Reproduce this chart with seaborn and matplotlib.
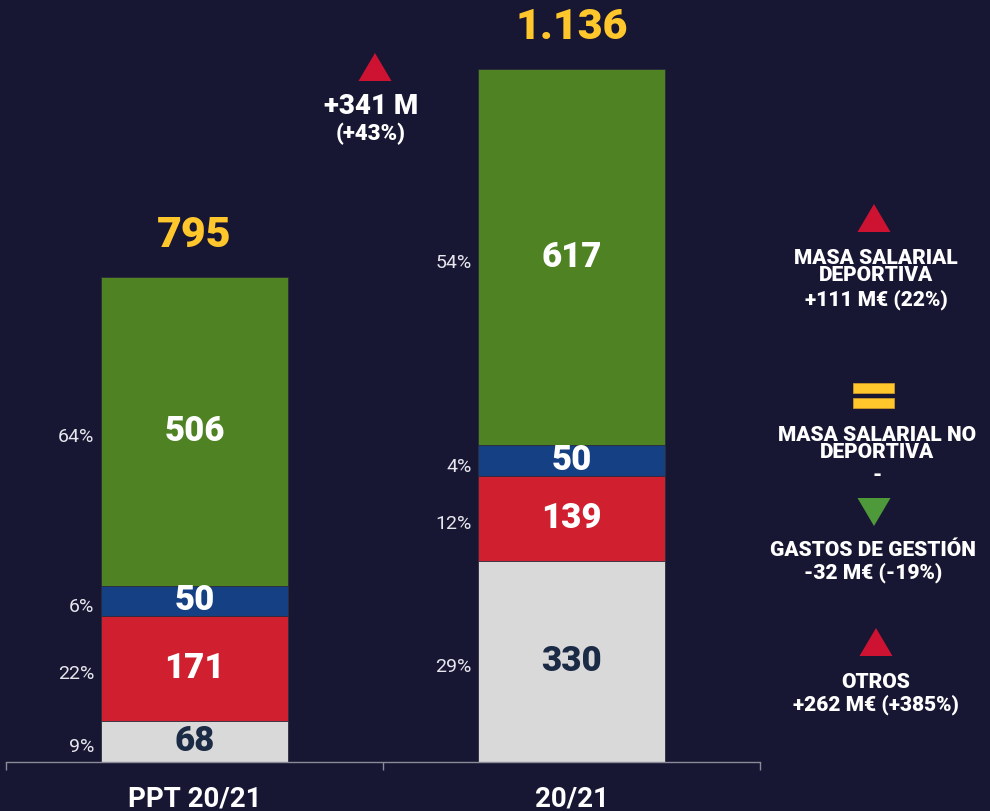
import pandas as pd
import seaborn as sns
import matplotlib.pyplot as plt
from matplotlib.patches import Polygon, Rectangle

periods = ["PPT 20/21", "20/21"]
otros = [68, 330]
gastos = [171, 139]
no_deportiva = [50, 50]
deportiva = [506, 617]
totals = ["795", "1.136"]
pct_otros = ["9%", "29%"]
pct_gastos = ["22%", "12%"]
pct_no_dep = ["6%", "4%"]
pct_dep = ["64%", "54%"]

BG = "#181733"
layers = [
    ("otros", otros, pct_otros, "#D9D9D9", "#1B2A45"),
    ("gastos", gastos, pct_gastos, "#D01F2E", "white"),
    ("no_dep", no_deportiva, pct_no_dep, "#164084", "white"),
    ("dep", deportiva, pct_dep, "#4F8223", "white"),
]

df = pd.DataFrame({"period": periods, "otros": otros, "gastos": gastos,
                   "no_dep": no_deportiva, "dep": deportiva})
cols = ["otros", "gastos", "no_dep", "dep"]
cum = df[cols].cumsum(axis=1)

sns.set_theme(style="white")
plt.rcParams["font.family"] = ["Roboto", "DejaVu Sans"]

fig = plt.figure(figsize=(9.9, 8.11), dpi=100, facecolor=BG)
ax = fig.add_axes([6 / 990, 49 / 811, 754 / 990, 762 / 811])
ax.set_facecolor(BG)

# stacked bars: draw cumulative heights from the top layer down
for name, vals, pcts, color, txt in reversed(layers):
    sns.barplot(x=df["period"], y=cum[name], color=color, saturation=1,
                width=0.495, edgecolor="#2a2a3a", linewidth=0.6, ax=ax)

for name, vals, pcts, color, txt in layers:
    for i in range(len(periods)):
        top = cum[name][i]
        mid = top - vals[i] / 2
        ax.text(i, mid, str(vals[i]), ha="center", va="center",
                fontsize=25, fontweight="heavy", color=txt)
        ax.text(i - 0.265, mid - 10, pcts[i], ha="right", va="center",
                fontsize=14, color="#E6E6EE")

for i in range(len(periods)):
    ax.text(i, cum["dep"][i] + 68, totals[i], ha="center", va="center",
            fontsize=31, fontweight="heavy", color="#FFC72C")

ax.set_xlim(-0.5, 1.5)
ax.set_ylim(0, 1249)
ax.set_xlabel("")
ax.set_ylabel("")
ax.set_yticks([])
for s in ["top", "left", "right"]:
    ax.spines[s].set_visible(False)
ax.spines["bottom"].set_color("#8A8A99")
ax.spines["bottom"].set_linewidth(1)
ax.set_xticks([0, 1])
ax.set_xticklabels(periods, fontsize=20, fontweight="bold", color="white")
ax.set_xticks([-0.5, 0.5, 1.5], minor=True)
ax.tick_params(axis="x", which="major", length=0, pad=17)
ax.tick_params(axis="x", which="minor", length=6, width=1, color="#8A8A99",
               direction="out", bottom=True)


def px(x, y):
    return (x / 990, 1 - y / 811)


def triangle(cx, cy, up, color, w=33, h=28):
    if up:
        pts = [px(cx - w / 2, cy + h / 2), px(cx + w / 2, cy + h / 2), px(cx, cy - h / 2)]
    else:
        pts = [px(cx - w / 2, cy - h / 2), px(cx + w / 2, cy - h / 2), px(cx, cy + h / 2)]
    fig.patches.append(Polygon(pts, closed=True, facecolor=color, edgecolor="none",
                               transform=fig.transFigure))


def ftext(x, y, s, size, **kw):
    fig.text(x / 990, 1 - y / 811, s, ha="center", va="center", fontsize=size,
             fontweight="heavy", color="white", linespacing=0.88, **kw)


# middle change annotation
triangle(375, 67, True, "#CE1232")
ftext(371, 106, "+341 M", 20)
ftext(371, 134, "(+43%)", 16)

# right-hand legend
triangle(874, 218, True, "#CE1232")
ftext(876, 267, "MASA SALARIAL\nDEPORTIVA", 15)
ftext(876, 300, "+111 M€ (22%)", 15)

for y0 in (383, 398):
    fig.patches.append(Rectangle(px(853, y0 + 10), 41 / 990, 10 / 811,
                                 facecolor="#FFC72C", edgecolor="#C9962A", lw=0.6,
                                 transform=fig.transFigure))
ftext(877, 444, "MASA SALARIAL NO\nDEPORTIVA", 15)
ftext(877, 476, "-", 15)

triangle(874, 512, False, "#4E9A3A")
ftext(873, 550, "GASTOS DE GESTIÓN", 15)
ftext(873, 573, "-32 M€ (-19%)", 15)

triangle(876, 642, True, "#CE1232")
ftext(876, 682, "OTROS", 15)
ftext(876, 705, "+262 M€ (+385%)", 15)

fig.savefig("out.png", dpi=100, facecolor=BG)
